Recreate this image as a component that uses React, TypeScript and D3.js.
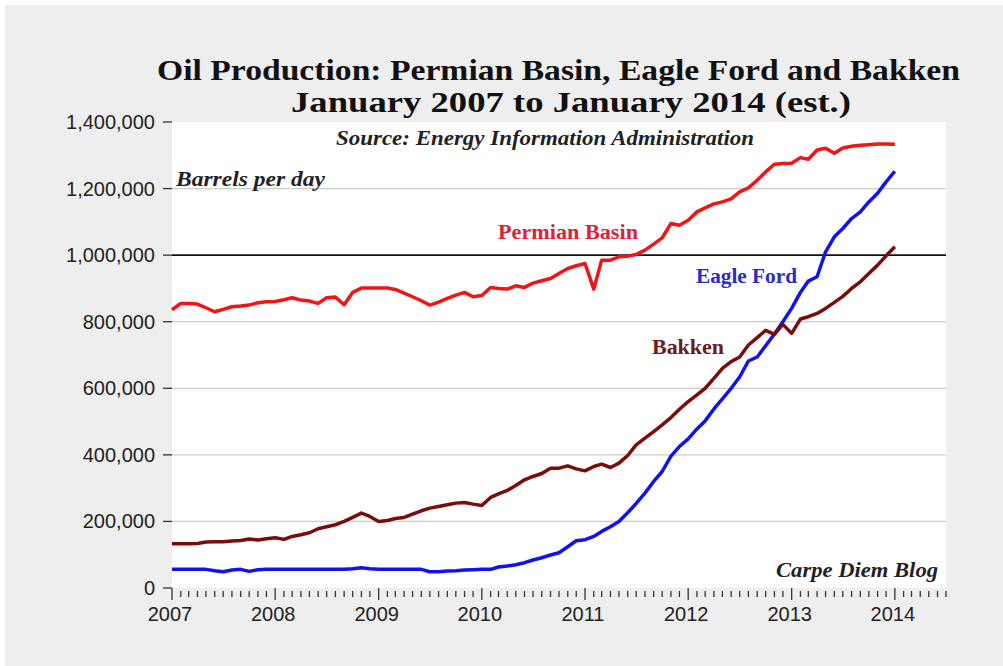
import React, { useEffect, useRef } from "react";
import * as d3 from "d3";

// monthly, Jan 2007 .. Jan 2014, thousand barrels per day
const permian = [
  836, 855, 855, 853, 842, 830, 837, 845, 847, 850, 857, 860,
  861, 866, 872, 865, 862, 855, 872, 874, 851, 888, 901, 901,
  901, 901, 897, 886, 875, 863, 850, 859, 870, 880, 888, 875,
  879, 903, 900, 898, 908, 903, 916, 923, 930, 945, 960, 968,
  975, 898, 985, 985, 995, 997, 1002, 1015, 1033, 1052, 1095, 1090,
  1105, 1130, 1142, 1154, 1160, 1169, 1190, 1202, 1225, 1250, 1273, 1275,
  1276, 1293, 1288, 1316, 1321, 1306, 1322, 1327, 1330, 1332, 1334, 1334,
  1333,
];
const eagleFord = [
  56, 56, 56, 56, 56, 52, 49, 54, 56, 50, 55, 56,
  56, 56, 56, 56, 56, 56, 56, 56, 56, 58, 61, 58,
  56, 56, 56, 56, 56, 56, 49, 49, 51, 52, 54, 55,
  56, 56, 63, 66, 70, 76, 84, 91, 99, 106, 124, 142,
  145, 155, 170, 184, 200, 226, 254, 285, 320, 350, 396, 425,
  448, 478, 502, 538, 568, 600, 634, 682, 694, 728, 763, 800,
  840, 888, 922, 935, 1010, 1055, 1080, 1110, 1130, 1160, 1186, 1220,
  1252,
];
const bakken = [
  133, 133, 133, 134, 138, 139, 139, 141, 143, 147, 144, 148,
  151, 146, 155, 160, 166, 178, 184, 190, 200, 212, 225, 215,
  200, 203, 209, 212, 222, 232, 240, 245, 250, 255, 257, 252,
  248, 272, 283, 293, 308, 325, 335, 344, 360, 360, 367, 358,
  352, 365, 372, 362, 375, 398, 430, 450, 470, 490, 512, 537,
  560, 580, 600, 630, 660, 680, 694, 730, 752, 774, 762, 792,
  765, 808, 815, 825, 840, 858, 876, 900, 920, 945, 970, 998,
  1025,
];
const years = [2007, 2008, 2009, 2010, 2011, 2012, 2013, 2014];
const yTicks = [0, 200000, 400000, 600000, 800000, 1000000, 1200000, 1400000];

const App: React.FC = () => {
  const ref = useRef<SVGSVGElement | null>(null);

  useEffect(() => {
    draw();
  }, []);

  const draw = () => {
    const svg = d3.select(ref.current);
    svg.selectAll("*").remove();

    const width = 1003;
    const height = 666;
    const plot = { left: 172, right: 946, top: 122, bottom: 588 };

    svg.append("rect").attr("width", width).attr("height", height).attr("fill", "#ffffff");
    svg
      .append("rect")
      .attr("x", 5)
      .attr("y", 5)
      .attr("width", width - 5)
      .attr("height", height - 5)
      .attr("fill", "#eeeeee");
    svg
      .append("rect")
      .attr("x", plot.left)
      .attr("y", plot.top)
      .attr("width", plot.right - plot.left)
      .attr("height", plot.bottom - plot.top)
      .attr("fill", "#ffffff");

    const x = d3
      .scaleTime()
      .domain([new Date(2007, 0, 1), new Date(2014, 6, 1)])
      .range([plot.left, plot.right]);
    const y = d3.scaleLinear().domain([0, 1400000]).range([plot.bottom, plot.top]);

    // gridlines
    svg
      .selectAll(".grid")
      .data(yTicks.filter((d) => d > 0 && d < 1400000))
      .enter()
      .append("line")
      .attr("x1", plot.left)
      .attr("x2", plot.right)
      .attr("y1", (d) => y(d))
      .attr("y2", (d) => y(d))
      .attr("stroke", (d) => (d === 1000000 ? "#111" : "#cccccc"))
      .attr("stroke-width", (d) => (d === 1000000 ? 1.6 : 1.2));

    // y axis ticks + labels
    const yAxis = svg.append("g");
    yAxis
      .selectAll("line")
      .data(yTicks)
      .enter()
      .append("line")
      .attr("x1", plot.left - 9)
      .attr("x2", plot.left)
      .attr("y1", (d) => y(d))
      .attr("y2", (d) => y(d))
      .attr("stroke", "#333")
      .attr("stroke-width", 1.3);
    yAxis
      .selectAll("text")
      .data(yTicks)
      .enter()
      .append("text")
      .attr("x", plot.left - 17)
      .attr("y", (d) => y(d))
      .attr("dy", "0.35em")
      .attr("text-anchor", "end")
      .attr("font-family", "Liberation Sans, Arial, sans-serif")
      .attr("font-size", 20)
      .attr("fill", "#222")
      .text((d) => d3.format(",")(d));

    // x axis: monthly minor ticks, yearly major ticks
    const months = d3.range(0, 91);
    svg
      .append("g")
      .selectAll("line")
      .data(months)
      .enter()
      .append("line")
      .attr("x1", (m) => x(new Date(2007, m, 1)))
      .attr("x2", (m) => x(new Date(2007, m, 1)))
      .attr("y1", (m) => (m % 12 === 0 ? plot.bottom : plot.bottom + 3))
      .attr("y2", (m) => (m % 12 === 0 ? plot.bottom + 12 : plot.bottom + 9))
      .attr("stroke", "#333")
      .attr("stroke-width", 1.3);
    svg
      .append("g")
      .selectAll("text")
      .data(years)
      .enter()
      .append("text")
      .attr("x", (d) => x(new Date(d, 0, 1)) - 2)
      .attr("y", 621)
      .attr("text-anchor", "middle")
      .attr("font-family", "Liberation Sans, Arial, sans-serif")
      .attr("font-size", 20)
      .attr("fill", "#222")
      .text((d) => String(d));

    // series
    const series = [
      { name: "Permian Basin", values: permian, color: "#f01414" },
      { name: "Eagle Ford", values: eagleFord, color: "#1212ee" },
      { name: "Bakken", values: bakken, color: "#7a0c0c" },
    ];
    const line = d3
      .line<number>()
      .x((_, i) => x(new Date(2007, i, 1)))
      .y((d) => y(d * 1000));
    svg
      .append("g")
      .selectAll("path")
      .data(series)
      .enter()
      .append("path")
      .attr("d", (s) => line(s.values))
      .attr("fill", "none")
      .attr("stroke", (s) => s.color)
      .attr("stroke-width", 3.5)
      .attr("stroke-linejoin", "round");

    const serif = "Liberation Serif, Georgia, serif";
    const addText = (
      t: string,
      tx: number,
      ty: number,
      size: number,
      len: number,
      color: string,
      italic = false,
      anchor = "start"
    ) =>
      svg
        .append("text")
        .attr("x", tx)
        .attr("y", ty)
        .attr("text-anchor", anchor)
        .attr("font-family", serif)
        .attr("font-weight", "bold")
        .attr("font-style", italic ? "italic" : "normal")
        .attr("font-size", size)
        .attr("fill", color)
        .attr("textLength", len)
        .attr("lengthAdjust", "spacingAndGlyphs")
        .text(t);

    // titles
    addText("Oil Production: Permian Basin, Eagle Ford and Bakken", 157, 80, 30, 803, "#111");
    addText("January 2007 to January 2014 (est.)", 291, 112, 30, 560, "#111");

    // annotations
    addText("Source: Energy Information Administration", 336, 145, 20, 418, "#222", true);
    addText("Barrels per day", 176, 186, 20, 149, "#222", true);
    addText("Carpe Diem Blog", 776, 577, 20, 162, "#222", true);

    // series labels
    addText("Permian Basin", 498, 239, 20, 140, "#e0203a");
    addText("Eagle Ford", 696, 283, 20, 101, "#2a2ac8");
    addText("Bakken", 652, 354, 20, 72, "#6e1a1a");
  };

  return (
    <div style={{ position: "absolute", left: 0, top: 0 }}>
      <svg ref={ref} width="1003" height="666"></svg>
    </div>
  );
};

export default App;
